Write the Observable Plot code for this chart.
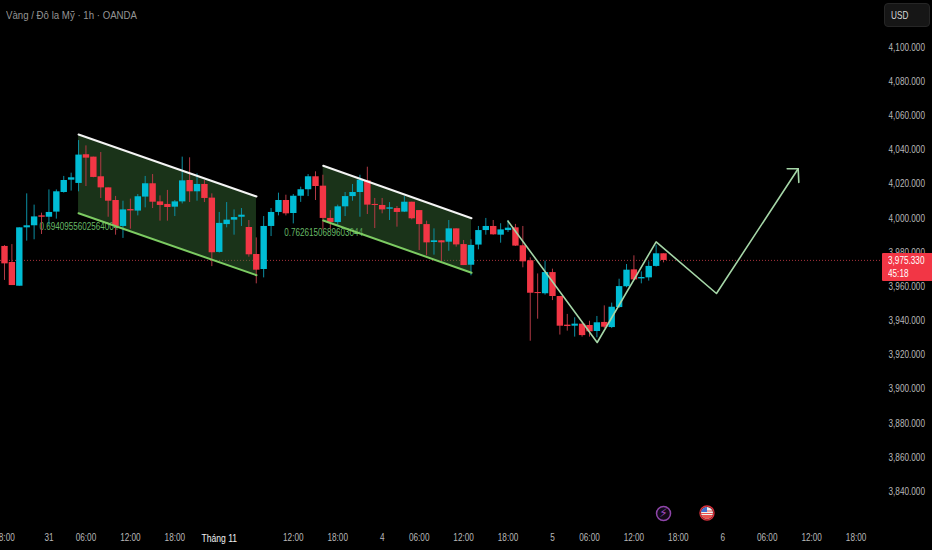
<!DOCTYPE html>
<html><head><meta charset="utf-8">
<script src="https://cdn.jsdelivr.net/npm/d3@7"></script>
<script src="https://cdn.jsdelivr.net/npm/@observablehq/plot@0.6"></script>
<style>
html,body{margin:0;padding:0;background:#000;width:932px;height:550px;overflow:hidden}
#wrap{position:relative;width:932px;height:550px}
#title{position:absolute;left:6px;top:9px;color:#949494;font:11.5px "Liberation Sans",Arial,sans-serif;white-space:nowrap;transform:scaleX(.84);transform-origin:left center}
#usd{position:absolute;left:884px;top:3px;width:46px;height:24px;box-sizing:border-box;background:#161616;border:1px solid #262626;border-radius:4px;color:#d8d8d8;font:10.5px/22px "Liberation Sans",sans-serif;padding-left:6px}
#usd span{display:inline-block;transform:scaleX(.78);transform-origin:left center}
#last{position:absolute;left:882px;width:50px;height:28px;background:#f23645;color:#fff;font:10.5px/13px "Liberation Sans",sans-serif;padding:1px 0 0 6px;box-sizing:border-box;border-radius:1px 0 0 1px}
#last span{display:block;transform:scaleX(.78);transform-origin:left center}
#flag{position:absolute}
</style></head><body>
<div id="wrap">
<div id="title">Vàng / Đô la Mỹ · 1h · OANDA</div>
<div id="usd"><span>USD</span></div>
</div>
<script>
const opens=[3983.5,3974.1,3960.2,3994.4,3995.6,4001.4,4000.6,4003.6,4015.1,4022.3,4020.4,4037.2,4035.8,4024.3,4017.8,4010.4,3995.2,4005.1,4004.2,4012.4,4020.2,4009.6,4008.1,4006.5,4009.6,4022.1,4015.5,4019.8,4011.8,3980,3996.3,3998.9,4000.6,3994.6,3978.8,3970,3995.2,4003.4,4010.4,4002.8,4012.9,4016.7,4024.3,4018.8,3999.9,3997.5,4006.7,4012.7,4015.1,4021.9,4008.1,4007.5,4005.3,4005.7,4003.6,4009.4,4004.5,3996.3,3985.8,3986.8,3986,3993.8,3984.6,3972.5,3984.3,3992.8,3995.2,3990.1,3992.8,3994.4,3983.9,3975.1,3956.5,3955.8,3968.2,3954.2,3937.4,3936.8,3938,3937.2,3933.7,3939,3936,3947.7,3959.9,3969.8,3964.5,3965.1,3971.8,3979.2];
const closes=[3973.3,3960.6,3994.4,3995.6,4000.8,4000.6,4003.4,4015.5,4022.1,4023.7,4037,4035.2,4023.9,4017.8,4010,3995.2,4004.9,4004.3,4012.6,4020.2,4009.4,4007.5,4006.3,4009.6,4021.9,4015.5,4019.8,4011.6,3979.8,3997,3998.9,4000.4,4001.8,3978.6,3969.6,3995.2,4003.4,4010.4,4002.6,4012.9,4016.7,4024.3,4018.6,3999.9,3997.5,4006.7,4012.7,4015.1,4022.3,4007.7,4007.5,4004.9,4006.1,4003.4,4009.4,3999.7,3996.3,3985.6,3986.8,3985.6,3993.8,3984.4,3972.3,3984.1,3992.8,3995.2,3990.3,3993.2,3994.2,3983.7,3974.5,3956.1,3955.9,3968.2,3954.2,3936.8,3936.6,3938,3931.3,3933.5,3938.8,3936.2,3947.9,3960,3969.6,3963.9,3965.3,3971.8,3979.2,3975.3];
const highs=[3984,3984.6,3994.4,4014.3,4007.7,4003,4016.6,4016.6,4024.5,4026.4,4045.5,4042.4,4035.8,4038.5,4017.8,4012.8,4010,4011.2,4013.9,4024.5,4025.6,4013.1,4016.3,4010.4,4035.8,4035.4,4026,4022.1,4014.3,4003.4,4009.2,4004.9,4005.7,3998.7,3988.5,4001,4005.7,4014.7,4013.5,4013.9,4018.2,4025.6,4027.2,4025.2,4004.5,4007.7,4015.1,4019.8,4025.2,4029.9,4011.6,4011.6,4009.2,4006.9,4012.7,4009.4,4004.5,3998.3,3993.8,3986.8,3998.7,3993.8,3987,3987.4,3995.2,3999.9,3998.7,3996.8,3998.7,3996.4,3995.2,3976.8,3967.4,3974.9,3970.2,3954.2,3943.7,3941.7,3938,3939.7,3942.5,3948.7,3950.3,3964.3,3972.9,3978,3968.6,3974.5,3984.2,3979.2];
const lows=[3963.6,3960.6,3960.2,3986.6,3987.4,3990.5,3995.6,3999.5,4014.7,4015.9,4015.5,4018.6,4023.7,4011.6,4000.6,3990.1,3988.2,3993.6,4001.4,4006.1,4005.7,3998.3,3998.3,4001,4008.4,4009.2,4010,4009.2,3971.7,3979.6,3994.4,3990.1,3995.2,3977.2,3961.6,3965.1,3989.3,4001.4,4001.4,3996.7,4009.3,4012.7,4010.4,3993.2,3993.6,3995.6,4001,4010,4000.6,4002.2,3994,4002.6,3998.7,3994.8,4003.4,3999.1,3981.1,3978,3978.4,3974.5,3980.7,3983.1,3972.3,3966.3,3981.5,3990.1,3990.1,3985.4,3991.7,3983.5,3971,3928,3940.9,3955,3951.8,3931.6,3933.9,3930.4,3930.4,3930.4,3930,3935.4,3935.4,3947.2,3959.3,3963.6,3961.6,3963.2,3971.4,3973.9];
const candles=opens.map((open,i)=>({i,open,close:closes[i],high:highs[i],low:lows[i]}));

const tickBars=[0,6,11,17,23,29,39,45,51,56,62,68,74,79,85,91,97,103,109,115];
const tickLabels=["18:00","31","06:00","12:00","18:00","Tháng 11","12:00","18:00","4","06:00","12:00","18:00","5","06:00","12:00","18:00","6","06:00","12:00","18:00"];
const priceTicks=[4100,4080,4060,4040,4020,4000,3980,3960,3940,3920,3900,3880,3860,3840];
const lastPrice=3975.33;
const lastCountdown="45:18";

const channelA=[{i:10,top:4049.05,bottom:4002.97},{i:34.03,top:4012.75,bottom:3966.66}];
const channelB=[{i:43.04,top:4030.73,bottom:3998.7},{i:63.07,top:4000.04,bottom:3968.07}];
const channelLabels=[{i:4.73,p:3995.2,t:"0.6940955602564004"},{i:37.77,p:3991.3,t:"0.7626150689603044"}];
const path=[{i:68,p:3998.3},{i:80.04,p:3927.25},{i:88,p:3986.2},{i:96.15,p:3955.95},{i:107.18,p:4029}];
const arrowHead=[{i:105.7,p:4029},{i:107.18,p:4029},{i:107.27,p:4021}];
const events=[{i:89,p:3827.1}];
const eventFlag={i:95,p:3827.1};

const UP="#00bcd4",DOWN="#f23645",WICKUP="#0b8ea2",WICKDN="#b23a45",LINE="#a5d6a7";
const col=(d,a,b)=>d.close>=d.open?a:b;
const label=new Map(tickBars.map((b,k)=>[b,tickLabels[k]]));
const chart=Plot.plot({
  width:932,height:550,marginTop:0,marginBottom:25,marginLeft:0,marginRight:52,
  style:{background:"#000",overflow:"visible",fontFamily:'"Liberation Sans",sans-serif'},
  x:{type:"linear",domain:[-0.54,118.3],axis:null},
  y:{type:"linear",domain:[3820.09,4127.52],axis:null},
  marks:[
    Plot.ruleY([lastPrice],{stroke:"#a8323c",strokeWidth:1,strokeDasharray:"1 2"}),
    Plot.text(channelLabels,{x:"i",y:"p",text:"t",fill:"#66b866",fontSize:10,textAnchor:"start"}),
    Plot.areaY(channelA,{x:"i",y1:"bottom",y2:"top",fill:"#3f7a3c",fillOpacity:0.42}),
    Plot.areaY(channelB,{x:"i",y1:"bottom",y2:"top",fill:"#3f7a3c",fillOpacity:0.42}),
    Plot.ruleX(candles,{x:"i",y1:"low",y2:"high",stroke:d=>col(d,WICKUP,WICKDN),strokeWidth:1}),
    Plot.ruleX(candles,{x:"i",y1:"open",y2:"close",stroke:d=>col(d,UP,DOWN),strokeWidth:6.4}),
    Plot.line(channelA,{x:"i",y:"top",stroke:"#f4f4f4",strokeWidth:2}),
    Plot.line(channelA,{x:"i",y:"bottom",stroke:"#7ccb62",strokeWidth:2}),
    Plot.line(channelB,{x:"i",y:"top",stroke:"#f4f4f4",strokeWidth:2}),
    Plot.line(channelB,{x:"i",y:"bottom",stroke:"#7ccb62",strokeWidth:2}),
    Plot.line(path,{x:"i",y:"p",stroke:LINE,strokeWidth:1.6}),
    Plot.line(arrowHead,{x:"i",y:"p",stroke:LINE,strokeWidth:1.6}),
    Plot.dot(events,{x:"i",y:"p",r:7,fill:"#120a18",stroke:"#8f45aa",strokeWidth:1.5}),
    Plot.text(events,{x:"i",y:"p",text:()=>"⚡",fill:"#a04bc0",fontSize:12,fontFamily:"DejaVu Sans"}),
    Plot.axisX({ticks:tickBars.filter(b=>b!==29),tickFormat:b=>label.get(b),tickSize:0,tickPadding:8.5,fill:"#b8b8b8",fontSize:10.5,anchor:"bottom",label:null}),
    Plot.axisX({ticks:[29],tickFormat:b=>label.get(b),tickSize:0,tickPadding:8.5,fill:"#f0f0f0",fontSize:11,anchor:"bottom",label:null}),
    Plot.axisY({anchor:"right",ticks:priceTicks,tickFormat:d3.format(",.3f"),tickSize:0,tickPadding:8,fill:"#b8b8b8",fontSize:10.5,label:null})
  ]
});
const wrap=document.getElementById("wrap");
chart.style.position="absolute";chart.style.left="0";chart.style.top="0";
wrap.prepend(chart);
// The reference uses a narrow face; condense the installed one to the same widths.
chart.querySelectorAll("text").forEach(t=>{
  if(t.textContent==="⚡")return;
  const k=channelLabels.some(c=>c.t===t.textContent)?0.81:0.78;
  t.setAttribute("lengthAdjust","spacingAndGlyphs");
  t.setAttribute("textLength",t.getComputedTextLength()*k);
});
const yy=chart.scale("y").apply(lastPrice);
const last=document.createElement("div");last.id="last";last.style.top=(yy-7)+"px";
last.innerHTML="<span>"+d3.format(",.3f")(lastPrice)+"</span><span>"+lastCountdown+"</span>";wrap.append(last);
const fx=chart.scale("x").apply(eventFlag.i),fy=chart.scale("y").apply(eventFlag.p);
const flag=document.createElement("div");flag.id="flag";flag.style.left=(fx-8)+"px";flag.style.top=(fy-8)+"px";
flag.innerHTML=`<svg width="16" height="16" viewBox="0 0 16 16"><defs><clipPath id="cf"><circle cx="8" cy="8" r="6"/></clipPath></defs><g clip-path="url(#cf)"><rect width="16" height="16" fill="#f0f0f0"/><rect y="10" width="16" height="6" fill="#e8524f"/><rect y="5.5" width="16" height="1" fill="#e8524f"/><rect y="8" width="16" height="1" fill="#e8524f"/><rect width="8" height="7" fill="#3f6fd0"/></g><circle cx="8" cy="8" r="7" fill="none" stroke="#d9303c" stroke-width="1.4"/></svg>`;
wrap.append(flag);
</script>
</body></html>
